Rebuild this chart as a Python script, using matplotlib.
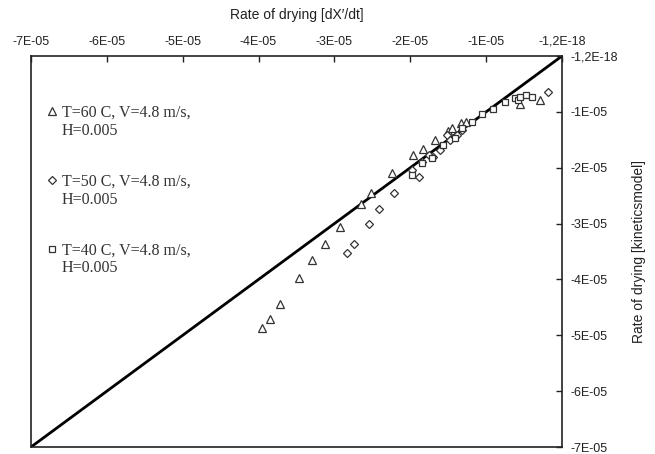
import matplotlib
matplotlib.use("Agg")
import matplotlib.pyplot as plt
import numpy as np

# data (units of 1e-5)
t60_x = [-3.96, -3.85, -3.72, -3.47, -3.29, -3.12, -2.93, -2.65, -2.52, -2.24,
         -1.96, -1.83, -1.68, -1.50, -1.45, -1.33, -1.26, -0.55, -0.29]
t60_y = [-4.87, -4.71, -4.44, -3.97, -3.66, -3.37, -3.07, -2.65, -2.46, -2.10,
         -1.78, -1.66, -1.50, -1.34, -1.29, -1.20, -1.18, -0.85, -0.79]

t50_x = [-2.84, -2.74, -2.54, -2.41, -2.22, -1.98, -1.89, -1.85, -1.75, -1.70,
         -1.61, -1.52, -1.48, -1.39, -1.32, -0.18]
t50_y = [-3.52, -3.37, -3.00, -2.74, -2.46, -2.04, -2.16, -1.89, -1.77, -1.80,
         -1.68, -1.41, -1.50, -1.41, -1.32, -0.65]

t40_x = [-1.98, -1.85, -1.72, -1.57, -1.41, -1.32, -1.18, -1.05, -0.91, -0.75,
         -0.62, -0.58, -0.55, -0.47, -0.40]
t40_y = [-2.13, -1.92, -1.83, -1.59, -1.47, -1.29, -1.18, -1.04, -0.95, -0.83,
         -0.76, -0.79, -0.73, -0.70, -0.73]

labels = ["T=60 C, V=4.8 m/s,", "T=50 C, V=4.8 m/s,", "T=40 C, V=4.8 m/s,"]
second_line = "H=0.005"

ticks = [-7e-5, -6e-5, -5e-5, -4e-5, -3e-5, -2e-5, -1e-5, 0]
xtick_labels = ["-7E-05", "-6E-05", "-5E-05", "-4E-05", "-3E-05", "-2E-05", "-1E-05", "-1,2E-18"]
ytick_labels = ["-7E-05", "-6E-05", "-5E-05", "-4E-05", "-3E-05", "-2E-05", "-1E-05", "-1,2E-18"]

sans = ["Liberation Sans Narrow", "Liberation Sans", "DejaVu Sans"]
serif = ["Liberation Serif", "DejaVu Serif"]
plt.rcParams["font.family"] = sans

fig = plt.figure(figsize=(6.55, 4.54), dpi=100)
ax = fig.add_axes([0.0473, 0.0154, 0.8107, 0.8612])

sc = 1e-5
mk = dict(linestyle="none", markerfacecolor="white", markeredgecolor="#333333",
          markeredgewidth=0.9)
ax.plot(np.array(t60_x) * sc, np.array(t60_y) * sc, marker="^", markersize=5.5, label=labels[0], **mk)
ax.plot(np.array(t50_x) * sc, np.array(t50_y) * sc, marker="D", markersize=4.3, label=labels[1], **mk)
ax.plot(np.array(t40_x) * sc, np.array(t40_y) * sc, marker="s", markersize=5, label=labels[2], **mk)

# 1:1 line
ax.plot([ticks[0], ticks[-1]], [ticks[0], ticks[-1]], color="black", linewidth=2, zorder=1)

ax.set_xlim(-7e-5, 0)
ax.set_ylim(-7e-5, 0)

ax.xaxis.tick_top()
ax.xaxis.set_label_position("top")
ax.yaxis.tick_right()
ax.yaxis.set_label_position("right")
ax.set_xticks(ticks)
ax.set_xticklabels(xtick_labels)
ax.set_yticks(ticks)
ax.set_yticklabels(ytick_labels)
ax.tick_params(direction="in", length=4, width=1, labelsize=9, colors="#222222", pad=6)

for s in ax.spines.values():
    s.set_linewidth(1.2)
    s.set_color("#222222")

ax.set_xlabel("Rate of drying [dX\u2032/dt]", fontsize=10, labelpad=12, color="#222222")
ax.set_ylabel("Rate of drying [kineticsmodel]", fontsize=10, labelpad=10, color="#222222")

leg = ax.legend(loc="upper left", bbox_to_anchor=(0.031, 0.875), frameon=False,
                prop={"family": serif, "size": 11.5}, handlelength=0.6, handletextpad=0.3,
                labelspacing=3.3, borderpad=0, borderaxespad=0)
for txt in leg.get_texts():
    txt.set_color("#333333")
    ax.annotate(second_line, xy=(0, 0), xycoords=txt, xytext=(0, -1.5),
                textcoords="offset points", va="top", ha="left", zorder=6,
                family=serif, fontsize=11.5, color="#333333")

fig.savefig("out.png", dpi=100)
